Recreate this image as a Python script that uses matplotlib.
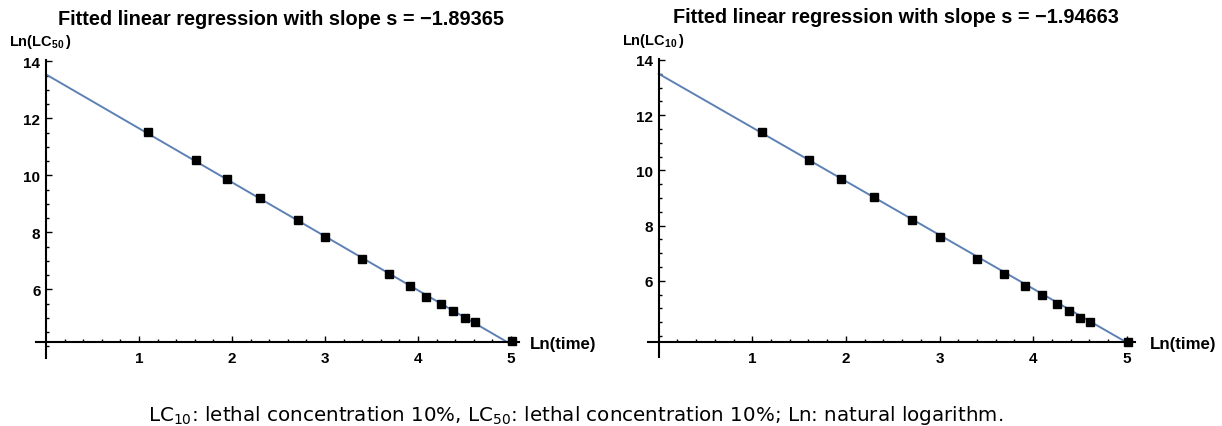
import matplotlib
matplotlib.use("Agg")
import matplotlib.pyplot as plt
import numpy as np

W, H = 1222, 427

# ln(time) of the exposure times (same for both panels)
LN_TIME = [1.10, 1.61, 1.95, 2.30, 2.71, 3.00, 3.40, 3.69, 3.91, 4.09, 4.25, 4.38, 4.50, 4.61, 5.01]
LN_LC50 = [11.52, 10.54, 9.88, 9.19, 8.42, 7.84, 7.05, 6.52, 6.10, 5.74, 5.47, 5.23, 5.01, 4.85, 4.19]
LN_LC10 = [11.40, 10.37, 9.69, 9.02, 8.19, 7.60, 6.80, 6.25, 5.82, 5.47, 5.16, 4.89, 4.67, 4.52, 3.77]

# fitted line: (intercept, slope)
FIT_LC50 = (13.54, -1.89365)
FIT_LC10 = (13.50, -1.94663)

X_TICKS = [1, 2, 3, 4, 5]
Y_TICKS = [6, 8, 10, 12, 14]

LINE_COLOR = "#5E81B5"
BOLD = "Liberation Sans"

plt.rcParams["mathtext.fontset"] = "custom"
plt.rcParams["mathtext.rm"] = "DejaVu Sans"
plt.rcParams["mathtext.bf"] = "Liberation Sans:bold"


def place(fig, x0, xs, y14, ys, xlim, ylim):
    # pixel geometry -> figure fraction axes
    left = x0 + xs * xlim[0]
    right = x0 + xs * xlim[1]
    top = y14 + (14 - ylim[1]) * ys
    bottom = y14 + (14 - ylim[0]) * ys
    return fig.add_axes([left / W, 1 - bottom / H, (right - left) / W, (bottom - top) / H])


def panel(ax, y, fit, x_cross, y_low):
    b, s = fit
    xf = np.array([0, LN_TIME[-1]])
    ax.plot(xf, b + s * xf, color=LINE_COLOR, lw=1.4, zorder=2)
    ax.plot(LN_TIME, y, "s", color="black", ms=5.5, zorder=3)

    for side in ("top", "right"):
        ax.spines[side].set_visible(False)
    ax.spines["bottom"].set_position(("data", x_cross))
    ax.spines["left"].set_position(("data", 0))
    ax.spines["bottom"].set_bounds(-0.11, 5.09)
    ax.spines["left"].set_bounds(y_low, 14.05)
    for side in ("bottom", "left"):
        ax.spines[side].set_linewidth(1.5)

    ax.set_xticks(X_TICKS)
    ax.set_xticks(np.arange(0.2, 5.01, 0.2), minor=True)
    ax.set_yticks(Y_TICKS)
    ax.set_yticks(np.arange(4.0, 14.01, 0.5), minor=True)
    ax.tick_params(which="both", direction="in", width=1.0)
    ax.tick_params(which="major", length=4, labelsize=11, pad=4)
    ax.tick_params(axis="x", which="major", pad=6)
    ax.tick_params(which="minor", length=2.5)
    for lab in ax.get_xticklabels() + ax.get_yticklabels():
        lab.set_fontfamily(BOLD)
        lab.set_fontweight("bold")
    ax.patch.set_visible(False)


def main():
    fig = plt.figure(figsize=(W / 100, H / 100), dpi=100)

    # left: LC50
    ax1 = place(fig, 46, 93.0, 62.3, 28.5, (-0.3, 5.3), (3.0, 14.4))
    ax1.set_xlim(-0.3, 5.3)
    ax1.set_ylim(3.0, 14.4)
    panel(ax1, LN_LC50, FIT_LC50, 4.14, 3.6)

    # right: LC10
    ax2 = place(fig, 658.7, 93.6, 61.0, 27.6, (-0.3, 5.3), (3.0, 14.4))
    ax2.set_xlim(-0.3, 5.3)
    ax2.set_ylim(3.0, 14.4)
    panel(ax2, LN_LC10, FIT_LC10, 3.77, 3.24)

    tkw = dict(fontfamily=BOLD, fontweight="bold")
    fig.text(281 / W, 1 - 25 / H, "Fitted linear regression with slope s = \u22121.89365",
             ha="center", va="baseline", fontsize=14.3, **tkw)
    fig.text(896 / W, 1 - 23 / H, "Fitted linear regression with slope s = \u22121.94663",
             ha="center", va="baseline", fontsize=14.3, **tkw)

    fig.text(9 / W, 1 - 46 / H, r"Ln(LC$_\mathbf{50}$$\,$)", ha="left", va="baseline",
             fontsize=10.5, **tkw)
    fig.text(622 / W, 1 - 45 / H, r"Ln(LC$_\mathbf{10}$$\,$)", ha="left", va="baseline",
             fontsize=10.5, **tkw)

    fig.text(530 / W, 1 - 349 / H, "Ln(time)", ha="left", va="baseline", fontsize=12.2, **tkw)
    fig.text(1150 / W, 1 - 349 / H, "Ln(time)", ha="left", va="baseline", fontsize=12.2, **tkw)

    fig.text(148 / W, 1 - 421.5 / H,
             r"LC$_\mathrm{10}$: lethal concentration 10%, LC$_\mathrm{50}$: lethal concentration 10%; "
             r"Ln: natural logarithm.",
             ha="left", va="baseline", fontsize=14.3, fontfamily="DejaVu Sans")

    fig.savefig("out.png", dpi=100)
    plt.close(fig)


if __name__ == "__main__":
    main()
